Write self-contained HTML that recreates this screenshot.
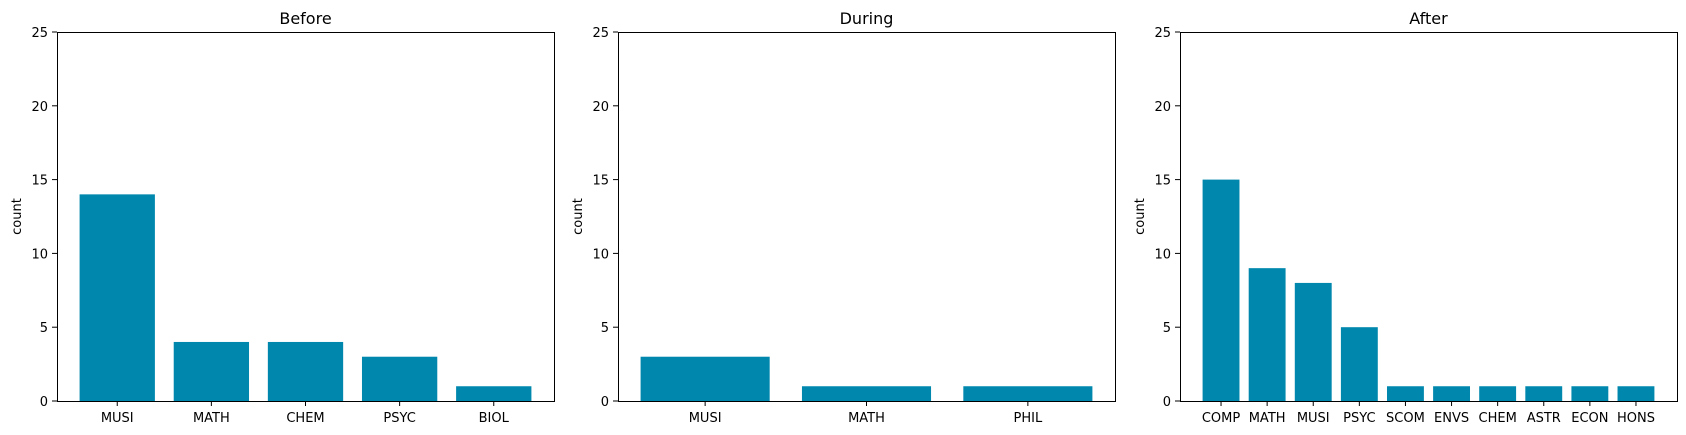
<!DOCTYPE html>
<html><head><meta charset="utf-8"><style>
body{margin:0;background:#fff;}
svg{display:block;font-family:"DejaVu Sans","Liberation Sans",sans-serif;}
</style></head><body>
<svg id="fig" width="1686" height="435" xmlns="http://www.w3.org/2000/svg"></svg>
<script>
const beforeCats=["MUSI","MATH","CHEM","PSYC","BIOL"];
const beforeVals=[14,4,4,3,1];
const duringCats=["MUSI","MATH","PHIL"];
const duringVals=[3,1,1];
const afterCats=["COMP","MATH","MUSI","PSYC","SCOM","ENVS","CHEM","ASTR","ECON","HONS"];
const afterVals=[15,9,8,5,1,1,1,1,1,1];
const yTicks=[0,5,10,15,20,25];
const titles=["Before","During","After"];

(function(){
const NS="http://www.w3.org/2000/svg";
const svg=document.getElementById('fig');
function mk(tag,attrs,parent){const e=document.createElementNS(NS,tag);for(const k in attrs)e.setAttribute(k,attrs[k]);(parent||svg).appendChild(e);return e;}
const panels=[[beforeCats,beforeVals,57],[duringCats,duringVals,618],[afterCats,afterVals,1180]];
const axTop=32,axBottom=401,W=497,ymax=25;
panels.forEach((p,i)=>{
  const cats=p[0],vals=p[1],left=p[2];
  const g=mk('g',{});
  
  
  const n=cats.length;
  const lo=-0.4-0.05*(n-1+0.8),hi=n-1+0.4+0.05*(n-1+0.8);
  const x=v=>left+(v-lo)/(hi-lo)*W;
  const y=v=>axBottom-v/ymax*(axBottom-axTop);
  vals.forEach((v,j)=>{
    const r=mk('rect',{x:x(j-0.4),y:y(v),width:x(j+0.4)-x(j-0.4),height:y(0)-y(v),fill:'#0087ae'},g);
    
    
    mk('line',{x1:x(j),x2:x(j),y1:axBottom,y2:axBottom+5,stroke:'#000','stroke-width':1},g);
    const t=mk('text',{x:x(j),y:axBottom+21,'text-anchor':'middle','font-size':13,fill:'#000'},g);
    t.textContent=cats[j];
    
    
  });
  yTicks.forEach(v=>{
    mk('line',{x1:left-5,x2:left,y1:y(v),y2:y(v),stroke:'#000','stroke-width':1},g);
    const t=mk('text',{x:left-9,y:y(v)+5,'text-anchor':'end','font-size':13,fill:'#000'},g);
    t.textContent=v;
    
    
  });
  const fr=mk('rect',{x:left+0.5,y:axTop+0.5,width:W,height:axBottom-axTop,fill:'none',stroke:'#000','stroke-width':1},g);
  
  
  const tt=mk('text',{x:left+W/2,y:axTop-8,'text-anchor':'middle','font-size':16,fill:'#000'},g);
  tt.textContent=titles[i];
  
  
  const yl=mk('text',{x:0,y:0,'text-anchor':'middle','font-size':13,fill:'#000',transform:'translate('+(left-36)+','+((axTop+axBottom)/2)+') rotate(-90)'},g);
  yl.textContent='count';
  
  
});
})();
</script>
</body></html>
